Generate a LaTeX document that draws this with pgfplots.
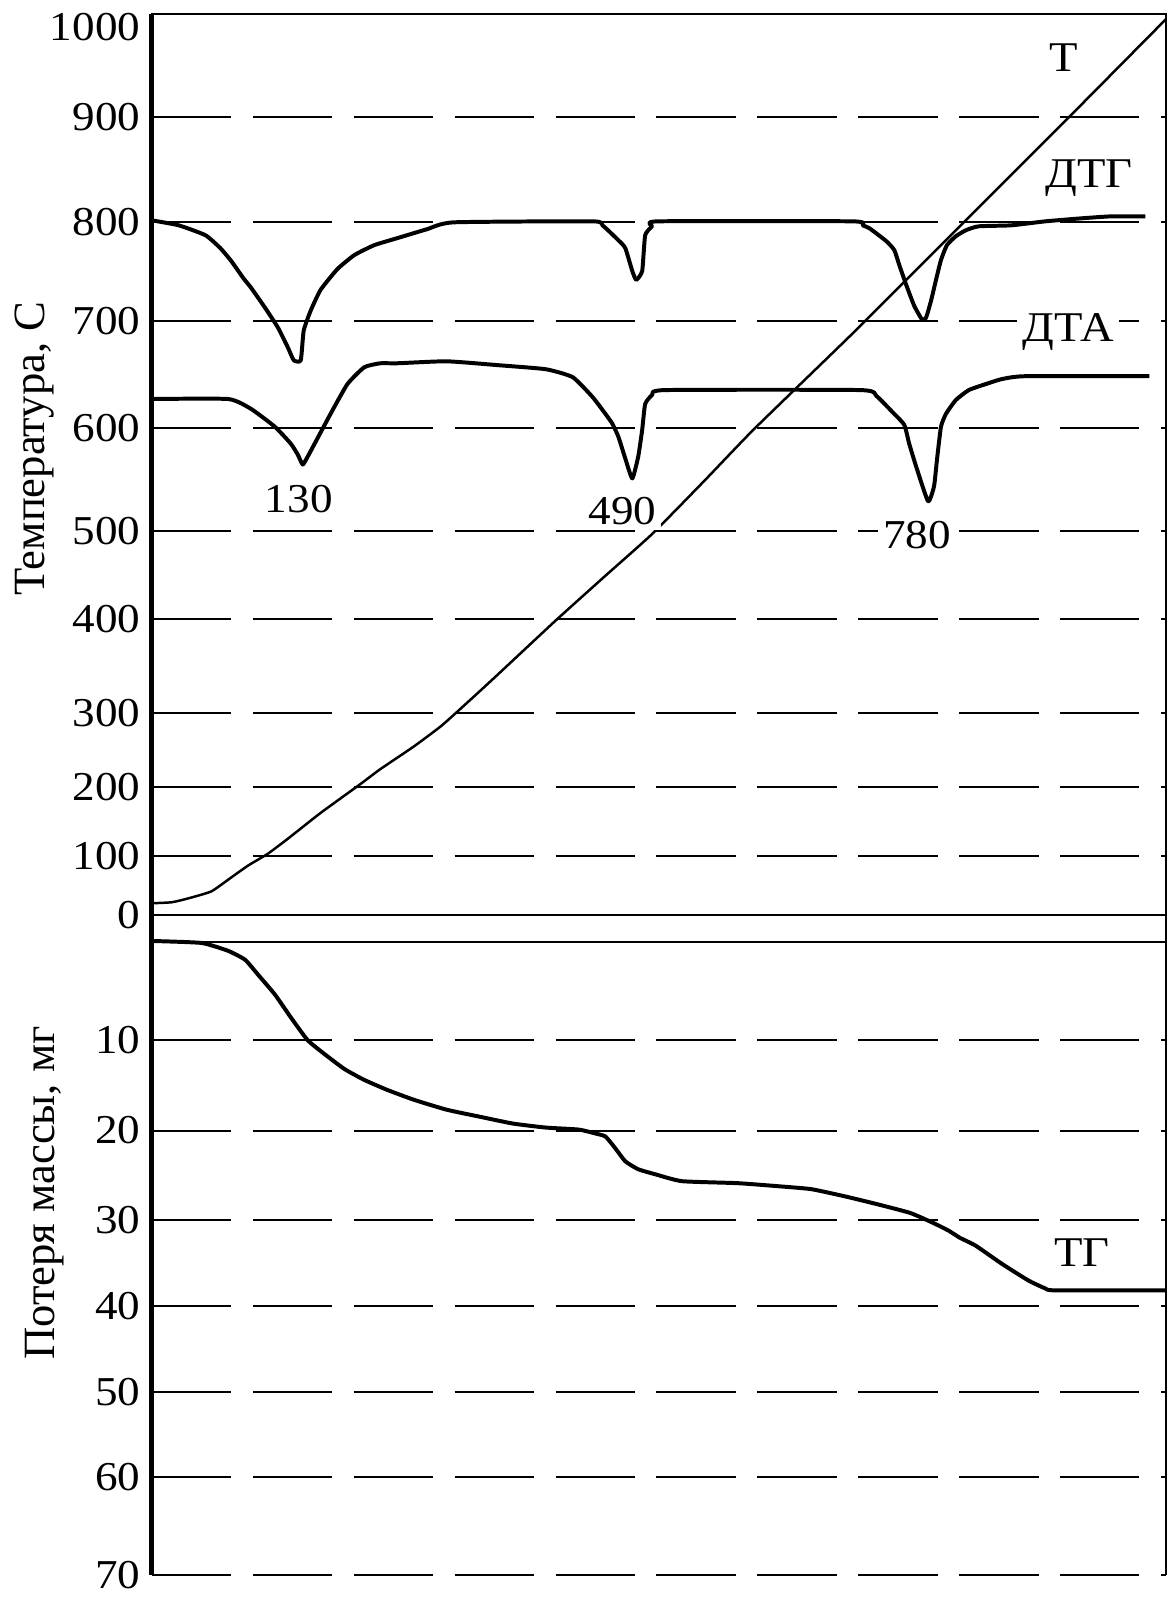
\documentclass[border=0pt]{standalone}
\usepackage{fontspec}
\setmainfont{Liberation Serif}[FakeStretch=1.1]
\newfontfamily\plainserif{Liberation Serif}
\usepackage{pgfplots}
\pgfplotsset{compat=1.18}

% positions are read off the drawing (the printed scales are not linear)
\pgfplotsset{
  thermo/.style={
    x=0.3pt, y=0.3pt, y dir=reverse,
    xmin=153, xmax=1175,
    xtick=\empty,
    major tick length=0pt,
    ymajorgrids,
    grid style={black, line width=0.6pt, dash pattern=on 24pt off 6.5pt},
    axis line style={line width=0.6pt},
    tick label style={font=\fontsize{12.4}{14}\selectfont},
    clip=false,
  },
}
\tikzset{
  curve/.style={black, line width=1.2pt, line join=round, smooth, tension=0.3},
  lbl/.style={font=\fontsize{12.4}{14}\selectfont, fill=white, inner sep=1.5pt},
  name lbl/.style={font=\fontsize{12.8}{14}\selectfont, fill=white, inner sep=1.5pt},
  ylbl/.style={rotate=90, font=\plainserif\fontsize{13.5}{15}\selectfont},
}

\begin{document}
\begin{tikzpicture}
\begin{axis}[thermo, name=upper,
    ymin=14, ymax=922,
    ytick={118,224,323,431,535,624,718,793,862,922},
    yticklabels={900,800,700,600,500,400,300,200,100,0},
    extra y ticks={14}, extra y tick labels={1000},
    extra y tick style={yticklabel style={yshift=-4pt}}]
  % T
  \addplot[black, line width=0.75pt, smooth, tension=0.3] coordinates {
    (153,910) (173,909) (190,905) (213,898) (233,884) (250,872) (270,860)
    (290,845) (323,819) (363,790) (383,775) (417,752) (445,731) (475,704)
    (500,681) (560,625) (610,580) (657,538) (710,484) (760,432) (862,333)
    (969,226) (1076,119) (1175,19)
  };
  % DTG
  \addplot[curve] coordinates {
    (153,222) (180,227) (207,237) (222,250) (233,263) (245,280) (253,290)
    (267,310) (280,330) (290,350) (296,363) (303,363) (306,333) (313,313)
    (323,292) (340,271) (357,257) (377,247) (400,240) (430,231) (457,224)
    (597,223) (607,227) (623,242) (630,250) (637,273) (641,282) (647,273)
    (650,237) (657,228) (663,223) (859,223) (869,227) (876,230) (893,243)
    (901,252) (906,267) (913,287) (921,308) (929,322) (933,320) (938,303)
    (943,282) (948,262) (954,247) (963,238) (973,232) (986,228) (1019,227)
    (1053,223) (1089,220) (1119,218) (1154,218)
  };
  % DTA
  \addplot[curve] coordinates {
    (153,402) (230,402) (253,412) (277,430) (293,447) (300,458) (305,468)
    (310,460) (317,447) (333,417) (350,387) (367,370) (383,366) (400,366)
    (450,364) (503,368) (550,372) (577,380) (597,400) (610,417) (617,427)
    (623,440) (630,462) (637,482) (643,460) (647,433) (650,407) (657,398)
    (670,393) (867,393) (883,399) (899,415) (911,428) (916,447) (923,470)
    (935,505) (941,490) (944,463) (948,430) (953,417) (963,403) (976,393)
    (993,387) (1009,382) (1033,379) (1158,379)
  };
  \node[lbl] at (axis cs:301,503) {130};
  \node[lbl] at (axis cs:627,515) {490};
  \node[lbl] at (axis cs:924,539) {780};
  \node[name lbl] at (axis cs:1072,58) {Т};
  \node[name lbl] at (axis cs:1097,179) {ДТГ};
  \node[name lbl] at (axis cs:1076,335) {ДТА};
  \node[ylbl] at (axis cs:35,452) {Температура, С};
  \draw[line width=1.5pt] (rel axis cs:0,0) -- (rel axis cs:0,1);
\end{axis}

\begin{axis}[thermo, at={(upper.south west)}, anchor=north west,
    ymin=922, ymax=1587,
    axis line style={draw=none},
    ytick={1048,1139,1229,1316,1402,1488,1587},
    yticklabels={10,20,30,40,50,60,70},
    extra y ticks={949}, extra y tick labels={},
    extra y tick style={major grid style={solid, black, line width=0.6pt}}]
  % TG
  \addplot[curve] coordinates {
    (153,948) (203,950) (230,958) (247,967) (260,982) (277,1002) (293,1025)
    (310,1048) (327,1062) (347,1077) (367,1088) (390,1098) (417,1108)
    (450,1118) (483,1125) (517,1132) (550,1136) (583,1138) (600,1142)
    (610,1145) (620,1157) (630,1170) (643,1178) (660,1183) (687,1190)
    (743,1192) (783,1195) (817,1198) (850,1205) (883,1213) (917,1222)
    (940,1232) (956,1240) (967,1247) (983,1255) (1009,1273) (1036,1290)
    (1053,1298) (1063,1300) (1175,1300)
  };
  \node[name lbl] at (axis cs:1090,1262) {ТГ};
  \node[ylbl] at (axis cs:45,1202) {Потеря массы, мг};
  \draw[line width=1.5pt] (rel axis cs:0,0) -- (rel axis cs:0,1);
  \draw[line width=0.6pt] (rel axis cs:1,0) -- (rel axis cs:1,1);
\end{axis}
\pgfresetboundingbox
\path ([shift={(-45.9pt,4.2pt)}]upper.north west)
  rectangle ([shift={(306.9pt,-480pt)}]upper.north west);
\end{tikzpicture}
\end{document}
